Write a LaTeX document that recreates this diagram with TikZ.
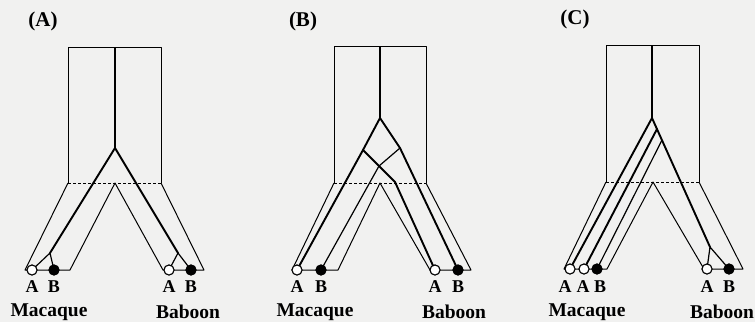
\documentclass[tikz,border=0pt]{standalone}
\usepackage{fontspec}
\setmainfont{Liberation Serif}
\begin{document}
\begin{tikzpicture}[x=1pt,y=-1pt,
  thin line/.style={line width=1pt,line join=round},
  thick line/.style={line width=1.9pt,line join=round,line cap=round},
  mid line/.style={line width=1.2pt,line join=round},
  dash line/.style={line width=1pt,dash pattern=on 3pt off 2pt},
  openallele/.style={circle,draw,fill=white,line width=1pt,minimum size=10pt,inner sep=0pt},
  fullallele/.style={circle,draw,fill=black,line width=1pt,minimum size=10pt,inner sep=0pt},
  allelelabel/.style={font=\bfseries\fontsize{18}{18}\selectfont,inner sep=0pt},
  species/.style={font=\bfseries\fontsize{19.5}{19.5}\selectfont,inner sep=0pt},
  panel/.style={font=\bfseries\fontsize{21}{21}\selectfont,inner sep=0pt}]
\useasboundingbox[fill={rgb,255:red,241;green,241;blue,240}] (0,0) rectangle (755,322);

% ================= Panel A =================
\node[panel] (labA) at (43,21) {(A)};
\coordinate (aTL) at (68,47); \coordinate (aTR) at (161,47);
\coordinate (aBL) at (68,183); \coordinate (aBR) at (161,183);
\coordinate (aTC) at (115,47); \coordinate (aAp) at (115,148); \coordinate (aDC) at (115,183);
\coordinate (aL1) at (25,270); \coordinate (aL2) at (70,270);
\coordinate (aR1) at (163,270); \coordinate (aR2) at (204,270);
\coordinate (aSL) at (50,253); \coordinate (aSR) at (178,253);
\draw[thin line] (aBL) -- (aTL) -- (aTR) -- (aBR);
\draw[dash line] (aBL) -- (aBR);
\draw[thin line] (aBL) -- (aL1) -- (aL2) -- (aDC) -- (aR1) -- (aR2) -- (aBR);
\draw[mid line] (aTC) -- (aAp);
\node[openallele] (aMA) at (32,270) {};
\node[fullallele] (aMB) at (54,270) {};
\node[openallele] (aBA) at (169,270) {};
\node[fullallele] (aBB) at (191,270) {};
\draw[thick line] (aAp) -- (aSL);
\draw[thick line] (aAp) -- (aSR);
\draw[mid line] (aSL) -- (aMA.center) (aSL) -- (aMB.center);
\draw[mid line] (aSR) -- (aBA.center) (aSR) -- (aBB.center);
\node[openallele] at (aMA) {};
\node[fullallele] at (aMB) {};
\node[openallele] at (aBA) {};
\node[fullallele] at (aBB) {};
\node[allelelabel] (aMAt) at (32,287) {A};
\node[allelelabel] (aMBt) at (54,287) {B};
\node[allelelabel] (aBAt) at (169,287) {A};
\node[allelelabel] (aBBt) at (191,287) {B};
\node[species] (aMac) at (49,312) {Macaque};
\node[species] (aBab) at (188,312) {Baboon};

% ================= Panel B =================
\node[panel] (labB) at (303,21) {(B)};
\coordinate (bTL) at (334,46); \coordinate (bTR) at (426,46);
\coordinate (bBL) at (334,183); \coordinate (bBR) at (426,183);
\coordinate (bTC) at (380,46); \coordinate (bAp) at (380,118); \coordinate (bDC) at (380,183);
\coordinate (bL1) at (292,270); \coordinate (bL2) at (338,270);
\coordinate (bR1) at (430,270); \coordinate (bR2) at (471,270);
\coordinate (bLb) at (363,150); \coordinate (bRb) at (400,148);
\coordinate (bX) at (379,166); \coordinate (bK) at (395,182);
\draw[thin line] (bBL) -- (bTL) -- (bTR) -- (bBR);
\draw[dash line] (bBL) -- (bBR);
\draw[thin line] (bBL) -- (bL1) -- (bL2) -- (bDC) -- (bR1) -- (bR2) -- (bBR);
\draw[mid line] (bTC) -- (bAp);
\node[openallele] (bMA) at (297,270) {};
\node[fullallele] (bMB) at (321,270) {};
\node[openallele] (bBA) at (435,270) {};
\node[fullallele] (bBB) at (458,270) {};
\draw[mid line] (bRb) -- (bX) -- (bMB.center);
\draw[thick line] (bAp) -- (bLb) -- (bMA.center);
\draw[thick line] (bAp) -- (bRb) -- (bBB.center);
\draw[thick line] (bLb) -- (bX) -- (bK) -- (bBA.center);
\node[openallele] at (bMA) {};
\node[fullallele] at (bMB) {};
\node[openallele] at (bBA) {};
\node[fullallele] at (bBB) {};
\node[allelelabel] (bMAt) at (297,287) {A};
\node[allelelabel] (bMBt) at (321,287) {B};
\node[allelelabel] (bBAt) at (435,287) {A};
\node[allelelabel] (bBBt) at (458,287) {B};
\node[species] (bMac) at (315,312) {Macaque};
\node[species] (bBab) at (454,312) {Baboon};

% ================= Panel C =================
\node[panel] (labC) at (575,19) {(C)};
\coordinate (cTL) at (606,45); \coordinate (cTR) at (699,45);
\coordinate (cBL) at (606,182); \coordinate (cBR) at (699,182);
\coordinate (cTC) at (652,45); \coordinate (cAp) at (652,118); \coordinate (cDC) at (653,182);
\coordinate (cL1) at (564,269); \coordinate (cL2) at (607,269);
\coordinate (cR1) at (704,269); \coordinate (cR2) at (743,269);
\coordinate (cP1) at (657,129); \coordinate (cP2) at (662,140);
\coordinate (cS) at (710,247);
\draw[thin line] (cBL) -- (cTL) -- (cTR) -- (cBR);
\draw[dash line] (cBL) -- (cBR);
\draw[thin line] (cBL) -- (cL1) -- (cL2) -- (cDC) -- (cR1) -- (cR2) -- (cBR);
\draw[mid line] (cTC) -- (cAp);
\node[openallele] (cMA1) at (570,269) {};
\node[openallele] (cMA2) at (584,269) {};
\node[fullallele] (cMB) at (597,269) {};
\node[openallele] (cBA) at (707,269) {};
\node[fullallele] (cBB) at (729,269) {};
\draw[mid line] (cP2) -- (cMB.center);
\draw[thick line] (cAp) -- (cMA1.center);
\draw[thick line] (cP1) -- (cMA2.center);
\draw[thick line] (cAp) -- (cS);
\draw[mid line] (cS) -- (cBA.center) (cS) -- (cBB.center);
\node[openallele] at (cMA1) {};
\node[openallele] at (cMA2) {};
\node[fullallele] at (cMB) {};
\node[openallele] at (cBA) {};
\node[fullallele] at (cBB) {};
\node[allelelabel] (cMA1t) at (565,287) {A};
\node[allelelabel] (cMA2t) at (583,287) {A};
\node[allelelabel] (cMBt) at (600,287) {B};
\node[allelelabel] (cBAt) at (707,287) {A};
\node[allelelabel] (cBBt) at (729,287) {B};
\node[species] (cMac) at (587,312) {Macaque};
\node[species] (cBab) at (722,312) {Baboon};
\end{tikzpicture}
\end{document}
